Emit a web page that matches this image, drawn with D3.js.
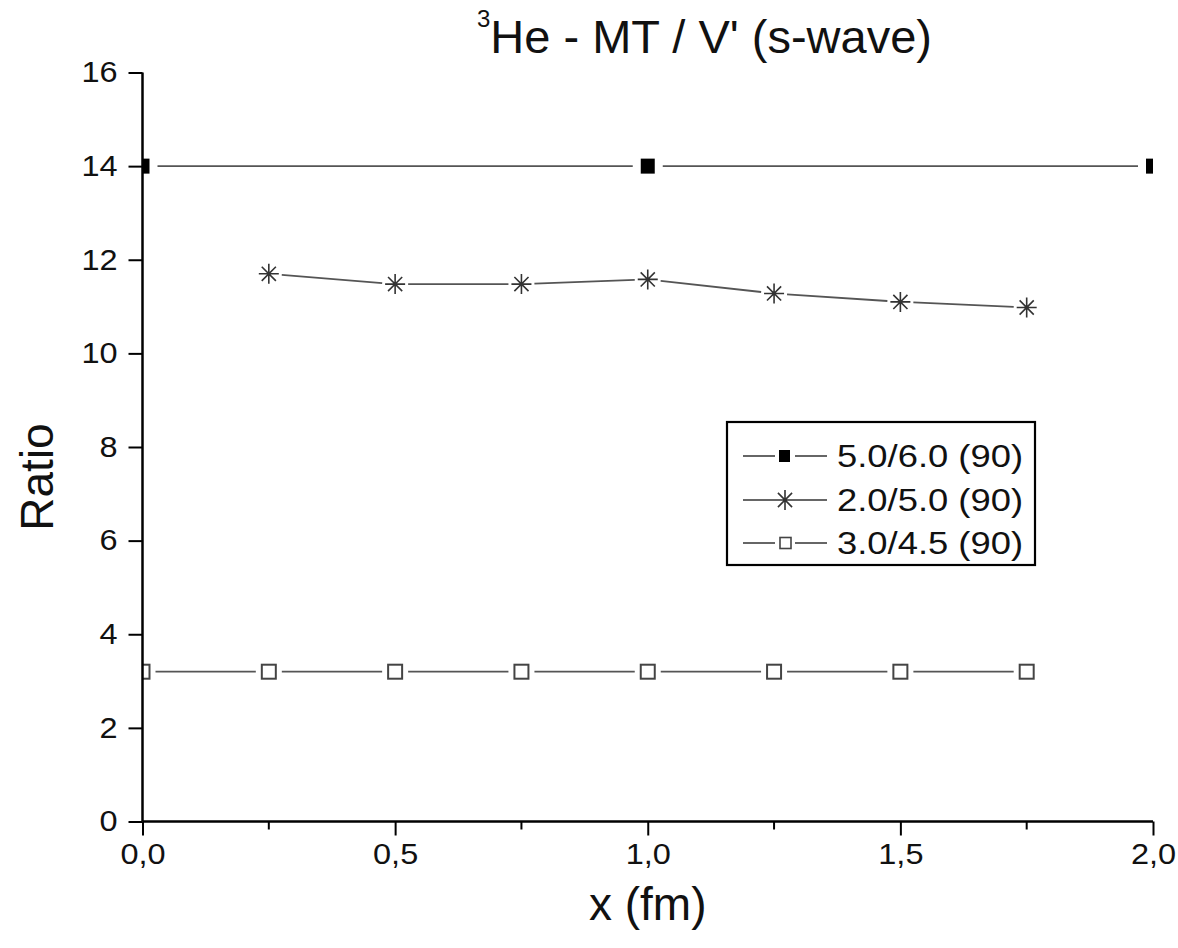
<!DOCTYPE html>
<html>
<head>
<meta charset="utf-8">
<script src="https://cdn.jsdelivr.net/npm/d3@7"></script>
<style>
  html, body { margin: 0; padding: 0; background: #fff; }
  svg { display: block; font-family: "Liberation Sans", Arial, sans-serif; }
</style>
</head>
<body>
<svg id="chart" width="1178" height="948"></svg>
<script>
// Ratio vs. x for three cutoff settings
const xPts = [0, 0.25, 0.5, 0.75, 1.0, 1.25, 1.5, 1.75];
const xFilled = [0, 1.0, 2.0];
const yFilled = [14, 14, 14];
const xStar = [0.25, 0.5, 0.75, 1.0, 1.25, 1.5, 1.75];
const yStar = [11.7, 11.48, 11.48, 11.58, 11.28, 11.1, 10.98];
const yOpen = [3.2, 3.2, 3.2, 3.2, 3.2, 3.2, 3.2, 3.2];
const seriesNames = ["5.0/6.0 (90)", "2.0/5.0 (90)", "3.0/4.5 (90)"];
const xTicks = [0, 0.5, 1.0, 1.5, 2.0];
const xMinorTicks = [0.25, 0.75, 1.25, 1.75];
const yTicks = [0, 2, 4, 6, 8, 10, 12, 14, 16];

const svg = d3.select("#chart");
const plotL = 142.5, plotR = 1153, plotT = 72.5, plotB = 821.5;

const x = d3.scaleLinear().domain([0, 2]).range([plotL, plotR]);
const y = d3.scaleLinear().domain([0, 16]).range([plotB, plotT]);
const fmt = d => d3.format(".1f")(d).replace(".", ",");

const lineColor = "#555";

svg.append("defs").append("clipPath").attr("id", "plotClip")
  .append("rect").attr("x", plotL).attr("y", plotT - 20)
  .attr("width", plotR - plotL).attr("height", plotB - plotT + 20);

const plot = svg.append("g").attr("clip-path", "url(#plotClip)");

// connecting lines, broken around each marker
function brokenLine(xs, ys, gap) {
  const pts = xs.map((v, i) => [x(v), y(ys[i])]);
  const segs = [];
  for (let i = 0; i < pts.length - 1; i++) {
    const [x0, y0] = pts[i], [x1, y1] = pts[i + 1];
    const len = Math.hypot(x1 - x0, y1 - y0);
    const ux = (x1 - x0) / len, uy = (y1 - y0) / len;
    segs.push([[x0 + ux * gap, y0 + uy * gap], [x1 - ux * gap, y1 - uy * gap]]);
  }
  plot.append("g").selectAll("line").data(segs).join("line")
    .attr("x1", d => d[0][0]).attr("y1", d => d[0][1])
    .attr("x2", d => d[1][0]).attr("y2", d => d[1][1])
    .attr("stroke", lineColor).attr("stroke-width", 1.8);
}

brokenLine(xFilled, yFilled, 15);
brokenLine(xStar, yStar, 13);
brokenLine(xPts, yOpen, 13);

// marker shapes
function filledSquare(g, cx, cy) {
  g.append("rect").attr("x", cx - 7).attr("y", cy - 7.5).attr("width", 14).attr("height", 15)
    .attr("fill", "#000");
}
function openSquare(g, cx, cy) {
  g.append("rect").attr("x", cx - 7).attr("y", cy - 7).attr("width", 14).attr("height", 14)
    .attr("fill", "#fff").attr("stroke", "#444").attr("stroke-width", 2);
}
function star(g, cx, cy) {
  const r = 10;
  const d = [];
  for (let k = 0; k < 4; k++) {
    const a = k * Math.PI / 4;
    const rx = r * Math.sin(a), ry = r * Math.cos(a);
    d.push(`M${cx - rx},${cy - ry}L${cx + rx},${cy + ry}`);
  }
  g.append("path").attr("d", d.join("")).attr("stroke", "#333").attr("stroke-width", 1.6)
    .attr("fill", "none");
}

xFilled.forEach((v, i) => filledSquare(plot, x(v), y(yFilled[i])));
xStar.forEach((v, i) => star(plot, x(v), y(yStar[i])));
xPts.forEach((v, i) => openSquare(plot, x(v), y(yOpen[i])));

// axes
const axisFont = 29;
const xAxis = svg.append("g").attr("transform", `translate(0,${plotB})`)
  .call(d3.axisBottom(x).tickValues(xTicks).tickFormat(fmt).tickSize(14).tickPadding(8));
xAxis.append("g").selectAll("line").data(xMinorTicks).join("line")
  .attr("x1", d => x(d)).attr("x2", d => x(d)).attr("y1", 0).attr("y2", 8)
  .attr("stroke", "#000").attr("stroke-width", 2);

const yAxis = svg.append("g").attr("transform", `translate(${plotL},0)`)
  .call(d3.axisLeft(y).tickValues(yTicks).tickFormat(d3.format("d")).tickSize(14).tickPadding(11));

[xAxis, yAxis].forEach(a => {
  a.select(".domain").attr("stroke", "#000").attr("stroke-width", 2.5);
  a.selectAll(".tick line").attr("stroke", "#000").attr("stroke-width", 2);
  a.selectAll(".tick text").attr("font-size", axisFont).attr("fill", "#111")
    .attr("font-family", "'Liberation Sans', Arial, sans-serif")
    .each(function () {
      // slightly wider digits for the tick numbers
      const w = this.getComputedTextLength();
      d3.select(this).attr("textLength", w * 1.12).attr("lengthAdjust", "spacingAndGlyphs");
    });
});
// straight axis lines without end caps
xAxis.select(".domain").attr("d", `M${plotL},0H${plotR}`);
yAxis.select(".domain").attr("d", `M0,${plotT}V${plotB}`);

// axis titles
svg.append("text").attr("x", (plotL + plotR) / 2).attr("y", 920)
  .attr("text-anchor", "middle").attr("font-size", 46).attr("fill", "#111")
  .text("x (fm)");
svg.append("text").attr("transform", "translate(53,477) rotate(-90)")
  .attr("text-anchor", "middle").attr("font-size", 46).attr("fill", "#111")
  .text("Ratio");

// title with superscript mass number
const title = svg.append("text").attr("x", 477).attr("y", 53).attr("fill", "#111");
title.append("tspan").attr("font-size", 24).attr("dy", -26).text("3");
title.append("tspan").attr("font-size", 47).attr("dy", 26).text("He - MT / V' (s-wave)");

// legend
const lg = svg.append("g");
lg.append("rect").attr("x", 727).attr("y", 422).attr("width", 308).attr("height", 143)
  .attr("fill", "#fff").attr("stroke", "#000").attr("stroke-width", 2.2);
const rows = [456, 500, 543];
seriesNames.forEach((name, i) => {
  const cy = rows[i];
  lg.append("line").attr("x1", 743).attr("x2", 775).attr("y1", cy).attr("y2", cy)
    .attr("stroke", lineColor).attr("stroke-width", 1.8);
  lg.append("line").attr("x1", 795).attr("x2", 827).attr("y1", cy).attr("y2", cy)
    .attr("stroke", lineColor).attr("stroke-width", 1.8);
  if (i === 0) {
    lg.append("rect").attr("x", 779).attr("y", cy - 6).attr("width", 11).attr("height", 12).attr("fill", "#000");
  } else if (i === 1) {
    star(lg.append("g"), 785, cy);
  } else {
    lg.append("rect").attr("x", 780).attr("y", cy - 5.5).attr("width", 11).attr("height", 11)
      .attr("fill", "#fff").attr("stroke", "#444").attr("stroke-width", 1.6);
  }
  lg.append("text").attr("x", 837).attr("y", cy + 11).attr("font-size", 32).attr("fill", "#111")
    .attr("textLength", 186).attr("lengthAdjust", "spacingAndGlyphs")
    .text(name);
});
</script>
</body>
</html>
